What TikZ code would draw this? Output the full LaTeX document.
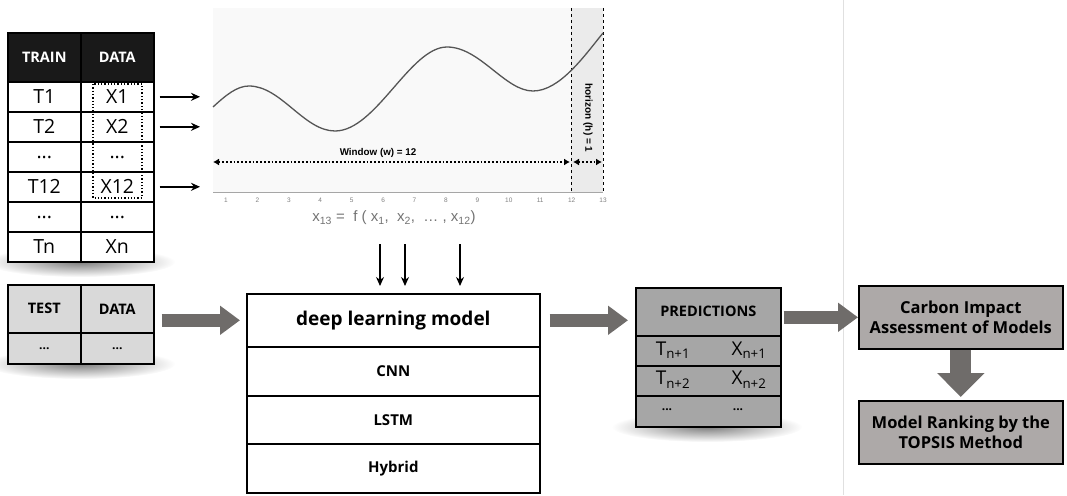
\documentclass[tikz,border=0pt]{standalone}
\usepackage{fontspec}
\setmainfont{Open Sans}
\newfontfamily\arialf{Liberation Sans}
\usetikzlibrary{arrows.meta,fadings,calc}
\definecolor{arrowgray}{HTML}{6F6C6A}
\definecolor{testfill}{HTML}{D9D9D9}
\definecolor{predfill}{HTML}{A6A6A6}
\definecolor{boxfill}{HTML}{ADA9A8}
\definecolor{plotbg}{HTML}{F9F9F9}
\definecolor{horbg}{HTML}{EBEBEB}
\definecolor{curvec}{HTML}{555555}
\tikzfading[name=shadowfade, inner color=transparent!0, outer color=transparent!100]
\begin{document}
\begin{tikzpicture}[x=1pt,y=-1pt,
  cell/.style={draw=black, line width=1.6pt, inner sep=0pt, minimum width=73pt,
    minimum height=30pt, anchor=north west, font=\fontsize{19.5}{19.5}\selectfont},
  hdr/.style={font=\bfseries\fontsize{14.5}{14.5}\selectfont},
  dlcell/.style={draw=black, line width=1.6pt, inner sep=0pt, minimum width=293pt,
    anchor=north west, fill=white, font=\bfseries\fontsize{15}{15}\selectfont},
  predrow/.style={draw=black, line width=1.6pt, inner sep=0pt, minimum width=145pt,
    minimum height=30pt, anchor=north west, fill=predfill},
  bigbox/.style={draw=black, line width=1.6pt, fill=boxfill, inner sep=0pt,
    minimum width=204pt, minimum height=63pt, anchor=north west, align=center,
    font=\bfseries\fontsize{16.5}{20}\selectfont},
  blockarrow/.style={draw=arrowgray, line width=13pt, -{Triangle[length=20pt,width=28pt]}},
  thinarrow/.style={-{Stealth[length=9pt,width=8pt]}, line width=1.4pt},
  tick/.style={font=\arialf\fontsize{6.5}{6.5}\selectfont, text=gray},
  shadowblob/.style={fill=black, opacity=0.5, path fading=shadowfade}
]
\useasboundingbox (0,0) rectangle (1067,495);

% separator
\draw[black!12, line width=0.8pt] (843,0) -- (843,495);

% shadows
\fill[shadowblob] (80,262) ellipse [x radius=95, y radius=15];
\fill[shadowblob] (80,364) ellipse [x radius=95, y radius=15];
\fill[shadowblob] (707,427) ellipse [x radius=95, y radius=15];

% ---------------- TRAIN table ----------------
\node[cell, fill=black!90, text=white, hdr, minimum height=49pt] (trh1) at (7,32) {TRAIN};
\node[cell, fill=black!90, text=white, hdr, minimum height=49pt] (trh2) at (80,32) {DATA};
\node[cell, fill=white] (t1) at (7,81) {T1};
\node[cell, fill=white] (x1) at (80,81) {X1};
\node[cell, fill=white] (t2) at (7,111) {T2};
\node[cell, fill=white] (x2) at (80,111) {X2};
\node[cell, fill=white] (t3) at (7,141) {\raisebox{-4pt}{...}};
\node[cell, fill=white] (x3) at (80,141) {\raisebox{-4pt}{...}};
\node[cell, fill=white] (t12) at (7,171) {T12};
\node[cell, fill=white] (x12) at (80,171) {X12};
\node[cell, fill=white] (t5) at (7,201) {\raisebox{-4pt}{...}};
\node[cell, fill=white] (x5) at (80,201) {\raisebox{-4pt}{...}};
\node[cell, fill=white] (tn) at (7,231) {Tn};
\node[cell, fill=white] (xn) at (80,231) {Xn};
\draw[dotted, line width=1.3pt] (93,84) rectangle (142,198);

% ---------------- chart ----------------
\node[fill=plotbg, inner sep=0pt, minimum width=390pt, minimum height=184pt, anchor=north west] (chart) at (213,8) {};
\fill[horbg] (571,8) rectangle (603,192);
\draw[gray!70, line width=0.6pt] (213,192) -- (603,192);
\foreach \i in {1,...,13} {
  \node[tick] (tk\i) at ({226+(\i-1)*31.42},200) {\i};
}
\draw[dashed, line width=1pt] (571,8) -- (571,193);
\draw[dashed, line width=1pt] (603,8) -- (603,193);
\draw[curvec, line width=1.3pt]
  (213,107) .. controls (226,95) and (237,86) .. (249,86)
  .. controls (281,86) and (304,131) .. (335,131)
  .. controls (376,131) and (410,47) .. (447,47)
  .. controls (480,47) and (505,91) .. (533,91)
  .. controls (560,91) and (585,55) .. (603,33);
\coordinate (wl) at (213,162);
\coordinate (wr) at (570,162);
\coordinate (hl) at (573,162);
\coordinate (hr) at (602,162);
\draw[dotted, line width=1.8pt, {Latex[length=6pt,width=7pt]}-{Latex[length=6pt,width=7pt]}] (wl) -- (wr);
\draw[dotted, line width=1.8pt, {Latex[length=6pt,width=7pt]}-{Latex[length=6pt,width=7pt]}] (hl) -- (hr);
\node[font=\arialf\bfseries\fontsize{9.8}{9.8}\selectfont] (wlabel) at (378,153) {Window (w) = 12};
\node[rotate=-90, font=\arialf\bfseries\fontsize{10}{10}\selectfont] (hlabel) at (588,118) {horizon (h) = 1};
\node[font=\arialf\fontsize{15}{15}\selectfont, text=black!55] (formula) at (394,218)
  {x\textsubscript{13} =~ f ( x\textsubscript{1}, ~x\textsubscript{2}, ~… , x\textsubscript{12})};

% arrows train -> chart
\draw[thinarrow, shorten <=5pt, shorten >=13pt] (x1.east) -- (chart.west |- x1.east);
\draw[thinarrow, shorten <=5pt, shorten >=13pt] (x2.east) -- (chart.west |- x2.east);
\draw[thinarrow, shorten <=5pt, shorten >=13pt] (x12.east) -- (chart.west |- x12.east);

% ---------------- TEST table ----------------
\node[cell, fill=testfill, hdr, minimum height=48pt] (th1) at (7,284) {TEST};
\node[cell, fill=testfill, hdr, minimum height=48pt] (th2) at (80,284) {DATA};
\node[cell, fill=testfill, minimum height=31pt, font=\bfseries\fontsize{12}{12}\selectfont] (td1) at (7,332) {...};
\node[cell, fill=testfill, minimum height=31pt, font=\bfseries\fontsize{12}{12}\selectfont] (td2) at (80,332) {...};

% ---------------- DL model ----------------
\node[dlcell, minimum height=53pt, font=\bfseries\fontsize{19}{19}\selectfont] (dlh) at (246,293) {deep learning model};
\node[dlcell, minimum height=49pt] (cnn) at (246,346) {CNN};
\node[dlcell, minimum height=48pt] (lstm) at (246,395) {LSTM};
\node[dlcell, minimum height=49pt] (hyb) at (246,443) {Hybrid};

\coordinate (d1) at (380,244);
\coordinate (d2) at (405,244);
\coordinate (d3) at (460,244);
\draw[thinarrow, shorten >=7pt] (d1) -- (d1 |- dlh.north);
\draw[thinarrow, shorten >=7pt] (d2) -- (d2 |- dlh.north);
\draw[thinarrow, shorten >=7pt] (d3) -- (d3 |- dlh.north);

% ---------------- Predictions ----------------
\node[predrow, minimum height=48pt, hdr] (ph) at (635,287) {PREDICTIONS};
\node[predrow] (pr1) at (635,335) {};
\node[predrow] (pr2) at (635,365) {};
\node[predrow, minimum height=31pt] (pr3) at (635,395) {};
\node[font=\fontsize{19}{19}\selectfont] (pt1) at (673,350) {T\textsubscript{n+1}};
\node[font=\fontsize{19}{19}\selectfont] (px1) at (749,350) {X\textsubscript{n+1}};
\node[font=\fontsize{19}{19}\selectfont] (pt2) at (673,380) {T\textsubscript{n+2}};
\node[font=\fontsize{19}{19}\selectfont] (px2) at (749,380) {X\textsubscript{n+2}};
\node[font=\bfseries\fontsize{12}{12}\selectfont] (pt3) at (667,410) {...};
\node[font=\bfseries\fontsize{12}{12}\selectfont] (px3) at (738,410) {...};

% ---------------- right boxes ----------------
\node[bigbox] (carbon) at (858,285) {Carbon Impact\\Assessment of Models};
\node[bigbox] (rank) at (858,400) {Model Ranking by the\\TOPSIS Method};

% block arrows
\draw[blockarrow, shorten <=7pt, shorten >=6pt] (th2.east |- dlh.west) -- (dlh.west);
\draw[blockarrow, shorten <=9pt, shorten >=7pt] (dlh.east) -- (ph.west |- dlh.east);
\draw[blockarrow, shorten <=2pt, shorten >=0pt] (ph.east |- carbon.west) -- (carbon.west);
\draw[draw=arrowgray, line width=21pt, -{Triangle[length=24pt,width=46pt]}, shorten >=3pt] (carbon.south) -- (rank.north);
\end{tikzpicture}
\end{document}
